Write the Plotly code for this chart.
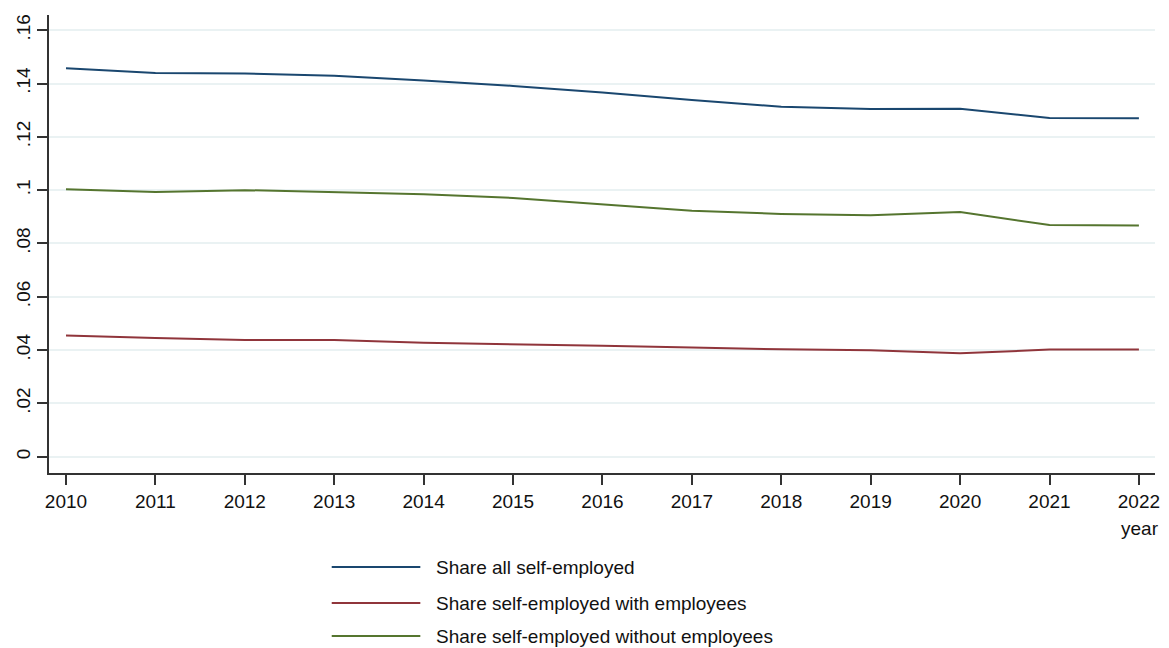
import plotly.graph_objects as go

years = list(range(2010, 2023))
share_all = [0.1457, 0.1439, 0.1438, 0.1429, 0.1411, 0.1391, 0.1366, 0.1338, 0.1313, 0.1304, 0.1305, 0.1271, 0.1270]
share_with = [0.0455, 0.0445, 0.0438, 0.0438, 0.0428, 0.0423, 0.0416, 0.0410, 0.0403, 0.0399, 0.0388, 0.0402, 0.0402]
share_without = [0.1003, 0.0993, 0.1000, 0.0993, 0.0985, 0.0971, 0.0948, 0.0923, 0.0911, 0.0906, 0.0918, 0.0869, 0.0867]

names = ["Share all self-employed", "Share self-employed with employees", "Share self-employed without employees"]
colors = ["#1a476f", "#90353b", "#55752f"]
series = [share_all, share_with, share_without]

y_ticks = [0, 0.02, 0.04, 0.06, 0.08, 0.10, 0.12, 0.14, 0.16]
y_ticklabels = ["0", ".02", ".04", ".06", ".08", ".1", ".12", ".14", ".16"]

W, H = 1169, 648
ML, MR, MT, MB = 49, 9, 15, 175
pw = W - ML - MR
ph = H - MT - MB

fig = go.Figure()
for name, col, vals in zip(names, colors, series):
    fig.add_trace(go.Scatter(x=years, y=vals, mode="lines", name=name,
                             line=dict(color=col, width=2), showlegend=False))

font = dict(family="Liberation Sans, Arial, sans-serif", size=19, color="#111111")

# custom legend (long line keys like Stata)
legend_rows_px = [567, 603, 636]
shapes = []
annotations = []
for name, col, py in zip(names, colors, legend_rows_px):
    yp = (H - MB - py) / ph
    shapes.append(dict(type="line", xref="paper", yref="paper",
                       x0=(333 - ML) / pw, x1=(422 - ML) / pw, y0=yp, y1=yp,
                       line=dict(color=col, width=2)))
    annotations.append(dict(text=name, xref="paper", yref="paper",
                            x=(436 - ML) / pw, y=yp, xanchor="left", yanchor="middle",
                            showarrow=False, font=dict(family=font["family"], size=19, color="#111111")))

annotations.append(dict(text="year", xref="paper", yref="paper",
                        x=(1166 - ML) / pw, y=(H - MB - 528) / ph, xanchor="right", yanchor="middle",
                        showarrow=False, font=font))

fig.update_layout(
    width=W, height=H,
    margin=dict(l=ML, r=MR, t=MT, b=MB),
    paper_bgcolor="white", plot_bgcolor="white",
    font=font,
    shapes=shapes,
    annotations=annotations,
    xaxis=dict(range=[2009.81, 2022.18], tickmode="array", tickvals=years,
               ticktext=[str(y) for y in years],
               showgrid=False, zeroline=False,
               showline=True, linecolor="#333333", linewidth=1.5,
               ticks="outside", ticklen=10, tickwidth=1.5, tickcolor="#333333",
               tickfont=font),
    yaxis=dict(range=[-0.0061, 0.1657], tickmode="array", tickvals=y_ticks,
               ticktext=y_ticklabels, tickangle=-90,
               showgrid=True, gridcolor="#eaf2f3", gridwidth=1.5, zeroline=False,
               showline=True, linecolor="#333333", linewidth=1.5,
               ticks="outside", ticklen=10, tickwidth=1.5, tickcolor="#333333",
               tickfont=font),
)

fig.write_html("out.html", config={"displayModeBar": False},
               post_script="document.body.style.margin='0';document.body.style.overflow='hidden';")
